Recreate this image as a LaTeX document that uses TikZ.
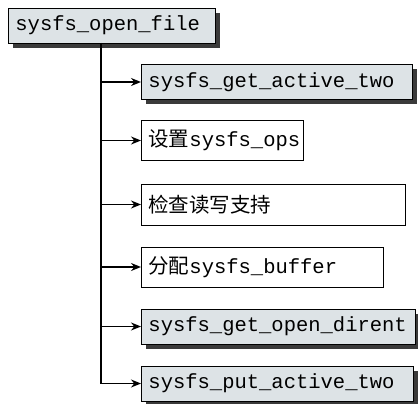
\documentclass[tikz,border=0pt]{standalone}
\usepackage{fontspec}
\setmonofont{Liberation Mono}
\newfontfamily\cjk{Noto Sans CJK SC}
\usetikzlibrary{arrows.meta,shadows}
\definecolor{FuncGrey}{HTML}{DDE3E6}
\definecolor{ShadowGrey}{HTML}{3A3A3A}

\tikzset{
  callbox/.style={draw,line width=0.9pt,anchor=west,align=left,inner xsep=7pt,
    font=\ttfamily\fontsize{20.5}{25}\selectfont},
  funcbox/.style={callbox,fill=FuncGrey,minimum height=35pt,
    drop shadow={shadow xshift=5pt,shadow yshift=-5pt,fill=ShadowGrey,opacity=1}},
  stepbox/.style={callbox,fill=white,minimum height=40pt},
  callarrow/.style={line width=1.5pt,-{Stealth[length=10pt,width=8pt]}}
}

\begin{document}
\begin{tikzpicture}[x=1pt,y=-1pt]
  \useasboundingbox (0,0) rectangle (418,404);
  \node[funcbox,text width=193pt] (open) at (8,25.5) {sysfs\_open\_file};
  \node[funcbox,text width=257pt] (getact) at (141,82) {sysfs\_get\_active\_two};
  \node[stepbox,text width=148pt] (setops) at (141,140.5) {{\cjk 设置}sysfs\_ops};
  \node[stepbox,text width=250pt,minimum height=41pt] (check) at (141,204.5) {{\cjk 检查读写支持}};
  \node[stepbox,text width=228pt] (alloc) at (141,267) {{\cjk 分配}sysfs\_buffer};
  \node[funcbox,text width=260pt] (getdir) at (141,326.5) {sysfs\_get\_open\_dirent};
  \node[funcbox,text width=258pt] (putact) at (141,383.5) {sysfs\_put\_active\_two};
  % trunk down from the caller
  \coordinate (trunk) at (101,43);
  \draw[callarrow] (trunk) |- (putact.west);
  \foreach \n in {getact,setops,check,alloc,getdir}
    \draw[callarrow] (trunk |- \n.west) -- (\n.west);
\end{tikzpicture}
\end{document}
